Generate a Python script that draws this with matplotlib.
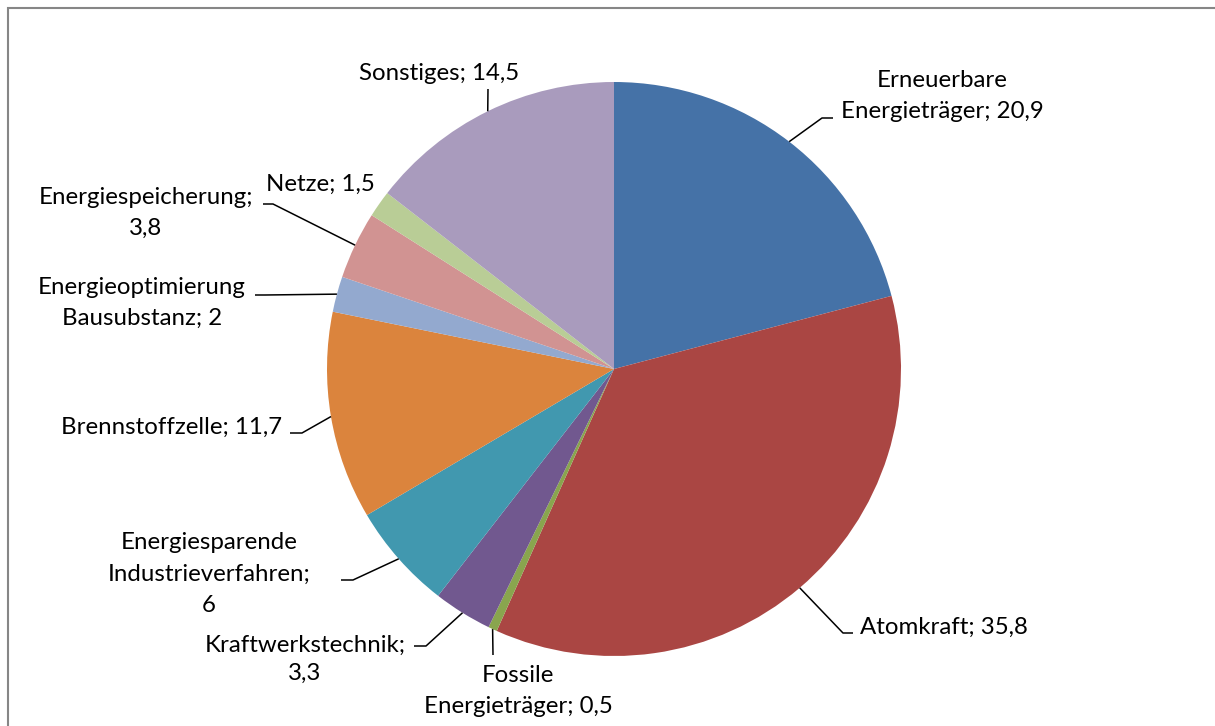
import numpy as np
import matplotlib.pyplot as plt
from matplotlib.patches import Rectangle

W, H = 1215, 726
FONT = 'Lato'
FONTSIZE = 17.3

categories = ['Erneuerbare\nEnergieträger', 'Atomkraft', 'Fossile\nEnergieträger',
              'Kraftwerkstechnik;', 'Energiesparende\nIndustrieverfahren;',
              'Brennstoffzelle', 'Energieoptimierung\nBausubstanz',
              'Energiespeicherung;', 'Netze', 'Sonstiges']
values = [20.9, 35.8, 0.5, 3.3, 6, 11.7, 2, 3.8, 1.5, 14.5]
value_labels = ['20,9', '35,8', '0,5', '3,3', '6', '11,7', '2', '3,8', '1,5', '14,5']
colors = ['#4572A7', '#AA4643', '#89A54E', '#71588F', '#4198AF',
          '#DB843D', '#93A9CF', '#D19392', '#B9CD96', '#A99BBD']

# label layout in picture pixels (x, y from top): text centre, leader elbow, leader end
label_pos = [(942, 96), (944, 627), (518, 691), (305, 659), (209, 574),
             (172, 427), (142, 303), (146, 213), (320, 184), (439, 73)]
elbows = [(822, 118), (843, 633), (493, 655), (426, 646), (353, 580),
          (302, 433), (265, 295), (273, 204), None, (488, 89)]
stub_ends = [(833, 118), (853, 633), None, (414, 646), (341, 580),
             (290, 433), (255, 295), (263, 204), None, None]
line_gaps = [1.6, 1.6, 1.6, 1.4, 1.6, 1.6, 1.6, 1.6, 1.6, 1.6]

CENTER = (614, H - 369)
RADIUS = 287


def flip(p):
    return p[0], H - p[1]


fig = plt.figure(figsize=(W / 100, H / 100), dpi=100)
ax = fig.add_axes([0, 0, 1, 1])

wedges, _ = ax.pie(values, colors=colors, startangle=90, counterclock=False,
                   center=CENTER, radius=RADIUS, frame=True,
                   wedgeprops=dict(linewidth=0))
ax.set_xlim(0, W)
ax.set_ylim(0, H)
ax.axis('off')

for i, wedge in enumerate(wedges):
    if categories[i].endswith(';'):
        text = categories[i] + '\n' + value_labels[i]
    else:
        text = categories[i] + '; ' + value_labels[i]
    tx, ty = flip(label_pos[i])
    ax.text(tx, ty, text, ha='center', va='center', multialignment='center',
            fontsize=FONTSIZE, family=FONT, color='black',
            linespacing=line_gaps[i])

    if elbows[i] is None:
        continue
    mid = np.deg2rad((wedge.theta1 + wedge.theta2) / 2)
    sx = wedge.center[0] + wedge.r * np.cos(mid)
    sy = wedge.center[1] + wedge.r * np.sin(mid)
    ex, ey = flip(elbows[i])
    xs, ys = [sx, ex], [sy, ey]
    if stub_ends[i] is not None:
        px, py = flip(stub_ends[i])
        xs.append(px)
        ys.append(py)
    ax.plot(xs, ys, color='black', linewidth=1.1, solid_capstyle='butt')

fig.patches.append(Rectangle((8 / W, -0.1), 1.2, (H - 8) / H + 0.1,
                             transform=fig.transFigure, fill=False,
                             edgecolor='#868686', linewidth=1.5))

fig.savefig('out.png', dpi=100, facecolor='white')
